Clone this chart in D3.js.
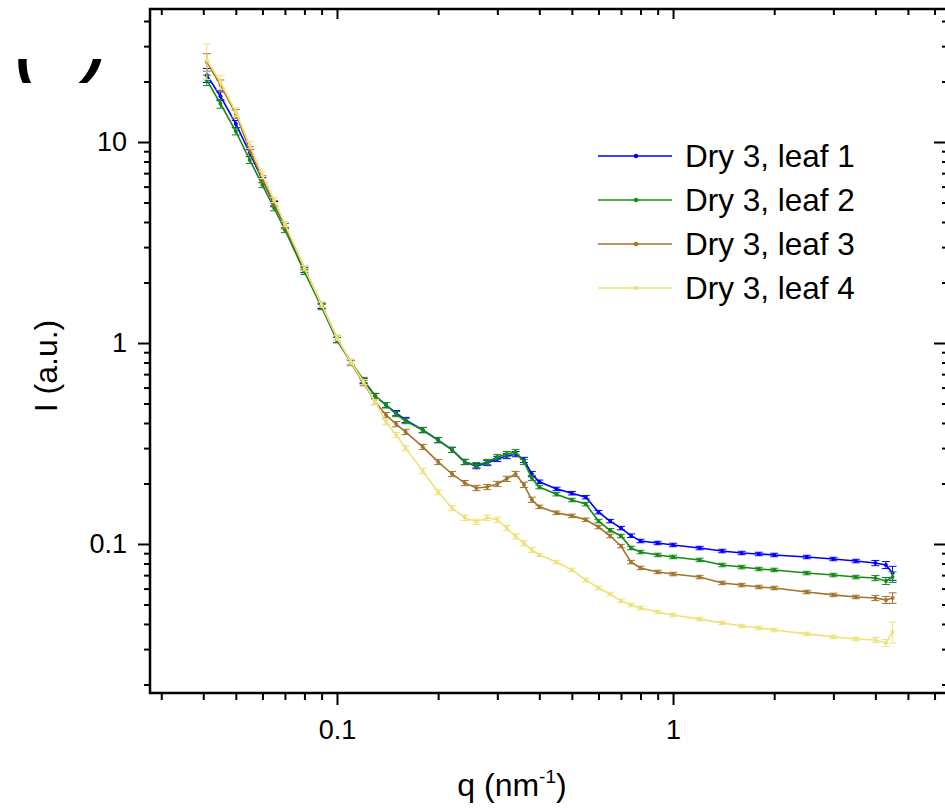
<!DOCTYPE html>
<html>
<head>
<meta charset="utf-8">
<script src="https://cdn.jsdelivr.net/npm/d3@7"></script>
<style>
  body { margin: 0; background: #fff; }
  text { font-family: Arial, "Liberation Sans", sans-serif; fill: #000; }
</style>
</head>
<body>
<svg id="drawing_region"></svg>
<script>
// q values (nm^-1), shared by all four curves
const q = [
    0.041, 0.045, 0.05, 0.055, 0.06, 0.065, 0.07, 0.08, 0.09, 0.1,
    0.11, 0.12, 0.13, 0.14, 0.15, 0.16, 0.18, 0.2, 0.22, 0.24,
    0.26, 0.28, 0.3, 0.32, 0.34, 0.36, 0.38, 0.4, 0.45, 0.5,
    0.55, 0.6, 0.65, 0.7, 0.75, 0.8, 0.9, 1.0, 1.2, 1.4,
    1.6, 1.8, 2.0, 2.5, 3.0, 3.5, 4.0, 4.3, 4.5
];

// intensities (a.u.)
const leaf1 = [
    21.5, 16.9, 12.3, 8.82, 6.47, 4.91, 3.82, 2.31, 1.53, 1.035,
    0.804, 0.647, 0.545, 0.491, 0.448, 0.414, 0.369, 0.329, 0.294, 0.256,
    0.244, 0.253, 0.265, 0.274, 0.280, 0.262, 0.223, 0.204, 0.188, 0.179,
    0.171, 0.144, 0.130, 0.120, 0.110, 0.1035, 0.1012, 0.0989, 0.0955, 0.0923,
    0.0902, 0.0892, 0.0882, 0.0862, 0.0842, 0.0823, 0.0804, 0.0786, 0.0717
];
const leaf2 = [
    20.3, 15.5, 11.3, 8.14, 6.11, 4.69, 3.65, 2.26, 1.51, 1.035,
    0.804, 0.655, 0.545, 0.491, 0.443, 0.409, 0.369, 0.329, 0.294, 0.256,
    0.247, 0.256, 0.271, 0.280, 0.287, 0.256, 0.213, 0.192, 0.177, 0.1655,
    0.158, 0.130, 0.117, 0.1096, 0.0955, 0.0912, 0.0882, 0.0862, 0.0833, 0.0786,
    0.0768, 0.0751, 0.0743, 0.0717, 0.0701, 0.0685, 0.0677, 0.0655, 0.0685
];
const leaf3 = [
    25.0, 19.2, 13.8, 9.12, 6.54, 4.97, 3.82, 2.36, 1.55, 1.06,
    0.795, 0.632, 0.509, 0.438, 0.395, 0.361, 0.304, 0.256, 0.223, 0.201,
    0.190, 0.192, 0.199, 0.211, 0.223, 0.197, 0.166, 0.153, 0.143, 0.138,
    0.132, 0.1215, 0.1096, 0.0977, 0.0813, 0.076, 0.0726, 0.0709, 0.0685, 0.064,
    0.0625, 0.0611, 0.0604, 0.0577, 0.0558, 0.0545, 0.0539, 0.0527, 0.0539
];
const leaf4 = [
    25.6, 19.9, 14.1, 9.66, 6.85, 5.15, 3.91, 2.36, 1.55, 1.06,
    0.804, 0.640, 0.509, 0.4045, 0.3485, 0.300, 0.231, 0.181, 0.151, 0.135,
    0.129, 0.135, 0.132, 0.120, 0.109, 0.101, 0.0934, 0.0882, 0.0813, 0.0743,
    0.0662, 0.0604, 0.0564, 0.0521, 0.0497, 0.048, 0.0459, 0.0443, 0.0423, 0.0405,
    0.0391, 0.0382, 0.0373, 0.0357, 0.0345, 0.0337, 0.0333, 0.0322, 0.0365
];

// relative error bars
const err1 = [
    0.08, 0.05, 0.04, 0.04, 0.03, 0.03, 0.03, 0.03, 0.03, 0.03,
    0.03, 0.03, 0.03, 0.03, 0.03, 0.03, 0.03, 0.03, 0.03, 0.03,
    0.03, 0.03, 0.03, 0.03, 0.03, 0.03, 0.03, 0.02, 0.02, 0.02,
    0.02, 0.02, 0.02, 0.02, 0.02, 0.02, 0.02, 0.02, 0.02, 0.02,
    0.02, 0.02, 0.02, 0.02, 0.02, 0.02, 0.03, 0.04, 0.08
];
const err2 = [
    0.06, 0.05, 0.04, 0.04, 0.03, 0.03, 0.03, 0.03, 0.03, 0.03,
    0.03, 0.03, 0.03, 0.03, 0.03, 0.03, 0.03, 0.03, 0.03, 0.03,
    0.03, 0.03, 0.03, 0.03, 0.03, 0.03, 0.03, 0.02, 0.02, 0.02,
    0.02, 0.02, 0.02, 0.02, 0.02, 0.02, 0.02, 0.02, 0.02, 0.02,
    0.02, 0.02, 0.02, 0.02, 0.02, 0.02, 0.03, 0.04, 0.06
];
const err3 = [
    0.10, 0.06, 0.05, 0.04, 0.04, 0.03, 0.03, 0.03, 0.03, 0.03,
    0.03, 0.03, 0.03, 0.03, 0.03, 0.03, 0.03, 0.03, 0.03, 0.03,
    0.03, 0.03, 0.03, 0.03, 0.03, 0.03, 0.03, 0.02, 0.02, 0.02,
    0.02, 0.02, 0.02, 0.02, 0.02, 0.02, 0.02, 0.02, 0.02, 0.02,
    0.02, 0.02, 0.02, 0.02, 0.02, 0.02, 0.03, 0.04, 0.06
];
const err4 = [
    0.20, 0.08, 0.05, 0.04, 0.04, 0.03, 0.03, 0.03, 0.03, 0.03,
    0.03, 0.03, 0.03, 0.03, 0.03, 0.03, 0.03, 0.03, 0.03, 0.03,
    0.03, 0.03, 0.03, 0.03, 0.03, 0.03, 0.03, 0.02, 0.02, 0.02,
    0.02, 0.02, 0.02, 0.02, 0.02, 0.02, 0.02, 0.02, 0.02, 0.02,
    0.02, 0.02, 0.02, 0.02, 0.02, 0.02, 0.03, 0.04, 0.12
];

const seriesNames = ['Dry 3, leaf 1', 'Dry 3, leaf 2', 'Dry 3, leaf 3', 'Dry 3, leaf 4'];
const seriesColors = ['#0000ff', '#148c14', '#a2742c', '#efe27c'];

const xMajor = [0.1, 1];
const xMajorLabels = ['0.1', '1'];
const xMinor = [0.03, 0.04, 0.05, 0.06, 0.07, 0.08, 0.09, 0.2, 0.3, 0.4, 0.5, 0.6, 0.7, 0.8, 0.9, 2, 3, 4, 5, 6];
const yMajor = [0.1, 1, 10];
const yMajorLabels = ['0.1', '1', '10'];
const yMinor = [0.02, 0.03, 0.04, 0.05, 0.06, 0.07, 0.08, 0.09, 0.2, 0.3, 0.4, 0.5, 0.6, 0.7, 0.8, 0.9,
                2, 3, 4, 5, 6, 7, 8, 9, 20, 30, 40];

const xDomain = [0.02777, 6.58];
const yDomain = [0.01814, 45.9];

const series = [leaf1, leaf2, leaf3, leaf4].map((vals, i) => ({
    name: seriesNames[i],
    color: seriesColors[i],
    values: vals.map((v, j) => ({ q: q[j], I: v, e: [err1, err2, err3, err4][i][j] }))
}));

class LogLogChart {
    constructor(config, data) {
        this.config = {
            parent: config.parent,
            width: config.width || 945,
            height: config.height || 808,
            margin: config.margin || {top:9, right:-3, bottom:115, left:150},
        };
        this.data = data;
        this.init();
    }
    init() {
        let self = this;

        self.svg = d3.select(self.config.parent)
            .attr('width', self.config.width)
            .attr('height', self.config.height);

        self.chart = self.svg.append('g')
            .attr('transform', `translate(${self.config.margin.left}, ${self.config.margin.top})`);
        self.inner_width = self.config.width - self.config.margin.left - self.config.margin.right;
        self.inner_height = self.config.height - self.config.margin.top - self.config.margin.bottom;

        self.xscale = d3.scaleLog().domain(xDomain).range([0, self.inner_width]);
        self.yscale = d3.scaleLog().domain(yDomain).range([self.inner_height, 0]);
    }
    render() {
        let self = this;
        const W = self.inner_width, H = self.inner_height;

        // bottom axis (outward ticks)
        const bottomMajor = self.chart.append('g')
            .attr('transform', `translate(0, ${H})`)
            .call(d3.axisBottom(self.xscale).tickValues(xMajor)
                .tickSize(12).tickPadding(15).tickFormat((d, i) => xMajorLabels[i]));
        const bottomMinor = self.chart.append('g')
            .attr('transform', `translate(0, ${H})`)
            .call(d3.axisBottom(self.xscale).tickValues(xMinor).tickSize(7).tickFormat(''));

        // left axis (outward ticks)
        const leftMajor = self.chart.append('g')
            .call(d3.axisLeft(self.yscale).tickValues(yMajor)
                .tickSize(12).tickPadding(11).tickFormat((d, i) => yMajorLabels[i]));
        const leftMinor = self.chart.append('g')
            .call(d3.axisLeft(self.yscale).tickValues(yMinor).tickSize(6).tickFormat(''));

        // top and right axes (inward ticks, no labels)
        const topMajor = self.chart.append('g')
            .call(d3.axisTop(self.xscale).tickValues(xMajor).tickSize(-10).tickFormat(''));
        const topMinor = self.chart.append('g')
            .call(d3.axisTop(self.xscale).tickValues(xMinor).tickSize(-6).tickFormat(''));
        const rightMajor = self.chart.append('g')
            .attr('transform', `translate(${W}, 0)`)
            .call(d3.axisRight(self.yscale).tickValues(yMajor).tickSize(-14).tickFormat(''));
        const rightMinor = self.chart.append('g')
            .attr('transform', `translate(${W}, 0)`)
            .call(d3.axisRight(self.yscale).tickValues(yMinor).tickSize(-6).tickFormat(''));

        [bottomMajor, bottomMinor, leftMajor, leftMinor, topMajor, topMinor, rightMajor, rightMinor]
            .forEach(g => {
                g.select('.domain').remove();
                g.selectAll('.tick line').attr('stroke', '#000').attr('stroke-width', 2);
                g.selectAll('.tick text').style('font-size', '27px').attr('fill', '#000');
            });

        // frame
        self.chart.append('rect')
            .attr('x', 0).attr('y', 0)
            .attr('width', W).attr('height', H)
            .attr('fill', 'none')
            .attr('stroke', '#000')
            .attr('stroke-width', 2.5);

        const line = d3.line()
            .x(d => self.xscale(d.q))
            .y(d => self.yscale(d.I));

        const groups = self.chart.selectAll('.series')
            .data(self.data)
            .enter()
            .append('g')
            .attr('class', 'series');

        // error bars
        groups.each(function(s) {
            const g = d3.select(this);
            const eb = g.selectAll('.eb')
                .data(s.values)
                .enter()
                .append('g')
                .attr('stroke', s.color)
                .attr('stroke-width', 1);
            eb.append('line')
                .attr('x1', d => self.xscale(d.q)).attr('x2', d => self.xscale(d.q))
                .attr('y1', d => self.yscale(d.I * (1 + d.e)))
                .attr('y2', d => self.yscale(d.I * (1 - d.e)));
            eb.append('line')
                .attr('x1', d => self.xscale(d.q) - 4).attr('x2', d => self.xscale(d.q) + 4)
                .attr('y1', d => self.yscale(d.I * (1 + d.e)))
                .attr('y2', d => self.yscale(d.I * (1 + d.e)));
            eb.append('line')
                .attr('x1', d => self.xscale(d.q) - 4).attr('x2', d => self.xscale(d.q) + 4)
                .attr('y1', d => self.yscale(d.I * (1 - d.e)))
                .attr('y2', d => self.yscale(d.I * (1 - d.e)));
        });

        groups.append('path')
            .attr('d', d => line(d.values))
            .attr('stroke', d => d.color)
            .attr('stroke-width', 1.6)
            .attr('fill', 'none');

        groups.each(function(s) {
            d3.select(this).selectAll('circle')
                .data(s.values)
                .enter()
                .append('circle')
                .attr('cx', d => self.xscale(d.q))
                .attr('cy', d => self.yscale(d.I))
                .attr('r', 2)
                .attr('fill', s.color);
        });

        // axis titles
        const xt = self.svg.append('text')
            .attr('x', 512).attr('y', 796)
            .attr('text-anchor', 'middle')
            .style('font-size', '32px');
        xt.append('tspan').text('q (nm');
        xt.append('tspan').text('-1').style('font-size', '19px').attr('dy', -13);
        xt.append('tspan').text(')').attr('dy', 13);

        self.svg.append('text')
            .attr('transform', 'translate(46, 366) rotate(-90)')
            .attr('text-anchor', 'middle')
            .attr('dy', '0.35em')
            .style('font-size', '32px')
            .text('I (a.u.)');

        // legend
        const legend = self.svg.append('g')
            .selectAll('g')
            .data(self.data)
            .enter()
            .append('g')
            .attr('transform', (d, i) => `translate(598, ${156 + i * 44})`);
        legend.append('line')
            .attr('x1', 0).attr('x2', 74)
            .attr('stroke', d => d.color)
            .attr('stroke-width', 1.6);
        legend.append('circle')
            .attr('cx', 38).attr('r', 2.2)
            .attr('fill', d => d.color);
        legend.append('text')
            .attr('x', 87).attr('dy', '0.36em')
            .style('font-size', '31.5px')
            .text(d => d.name);

        // clipped remains of the panel label
        self.svg.append('clipPath').attr('id', 'labelclip')
            .append('rect').attr('x', 0).attr('y', 59).attr('width', 140).attr('height', 30);
        self.svg.append('g')
            .attr('clip-path', 'url(#labelclip)')
            .selectAll('text')
            .data([['(', 16], [')', 84]])
            .enter()
            .append('text')
            .attr('x', d => d[1]).attr('y', 70)
            .style('font-size', '62px')
            .style('font-weight', 'bold')
            .style('font-style', 'italic')
            .text(d => d[0]);
    }
}

const chart = new LogLogChart({ parent: '#drawing_region', width: 945, height: 808 }, series);
chart.render();
</script>
</body>
</html>
